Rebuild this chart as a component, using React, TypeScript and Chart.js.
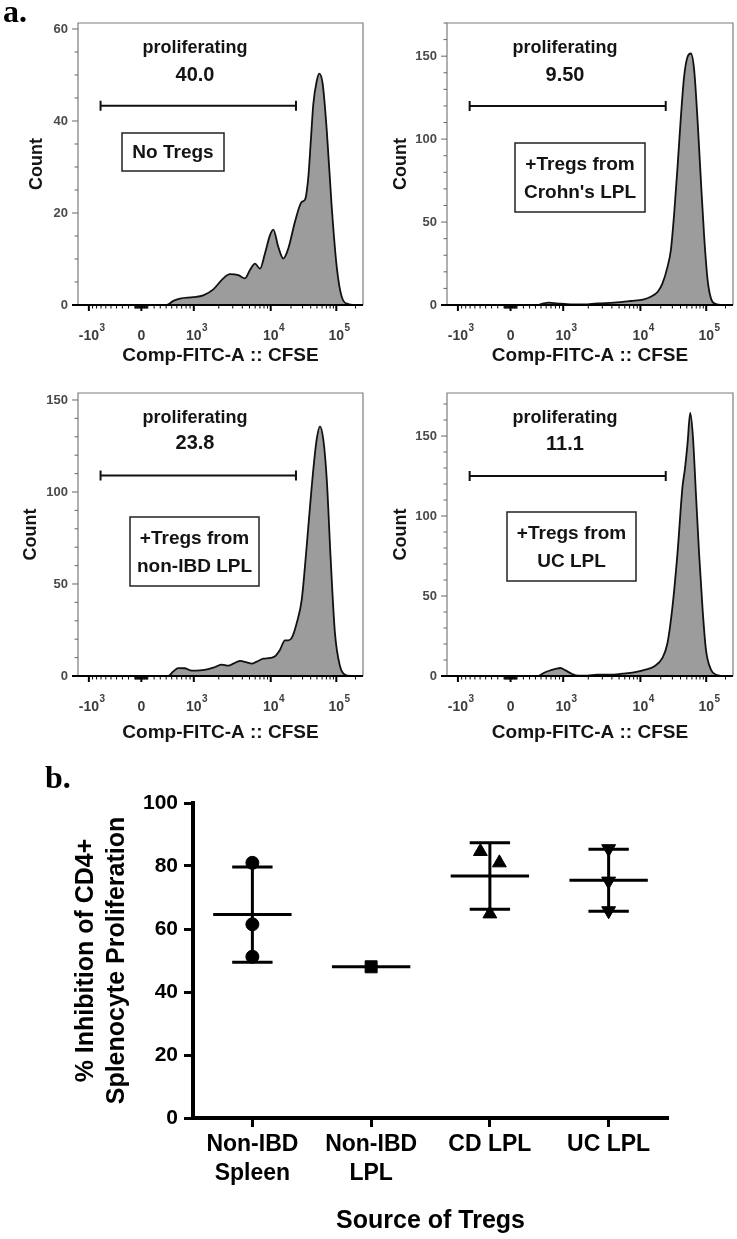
import React, { useEffect, useRef } from 'react';
import { Chart, registerables, LinearScale } from 'chart.js';

Chart.register(...registerables);

const FONT = '"Liberation Sans", Arial, Helvetica, sans-serif';
const SERIF = '"Liberation Serif", "Times New Roman", serif';

// ---------- Panel a: CFSE histograms (Comp-FITC-A value, event count) ----------
const P1_FLUOR = [300, 410, 530, 665, 987, 1300, 1717, 2276, 2760, 3540, 4350, 5080, 5960, 7010, 8250, 9760, 10910, 12930, 15340, 18230, 22990, 29120, 32690, 36760, 40300, 43900, 49600, 54300, 61400, 71000, 84800, 101500, 121500, 154000, 196000];
const P1_COUNT = [0, 0, 0.9, 1.4, 1.7, 2.1, 3.4, 5.8, 6.7, 6.5, 5.8, 7.6, 9.0, 7.9, 11.2, 15.2, 16.4, 12.6, 10.1, 12.3, 18.1, 22.4, 22.9, 27.8, 36.0, 43.7, 48.7, 50.3, 48.0, 37.9, 21.3, 8.3, 1.8, 0.2, 0];

const P2_FLUOR = [300, 428, 550, 650, 840, 1115, 1780, 2580, 4260, 7250, 11250, 14170, 18050, 21240, 25300, 28440, 31960, 35980, 40460, 45380, 51360, 57800, 65000, 73420, 82650, 93000, 105200, 118500, 142000, 181000];
const P2_COUNT = [0, 0, 1, 1.4, 1, 0.5, 0.3, 1, 1.4, 2.4, 3.4, 5, 8, 13, 23, 33, 55, 83, 113, 137.5, 149.6, 151.6, 141.6, 111, 75, 41, 15, 4, 0.6, 0];

const P3_FLUOR = [300, 438, 530, 630, 775, 943, 1188, 1494, 1800, 2175, 2630, 3047, 3725, 4590, 5375, 6300, 7815, 9770, 11560, 13700, 16240, 18230, 20540, 24440, 29140, 34700, 41490, 49400, 55680, 62750, 71000, 81800, 95150, 114300, 137000, 175000];
const P3_COUNT = [0, 0, 2.5, 4.3, 4.2, 2.9, 3.1, 3.8, 4.9, 6.2, 5.6, 6.7, 8.2, 7.4, 6.7, 7.8, 9.4, 9.8, 10.7, 14.3, 19.4, 19.4, 20.7, 28.8, 41.5, 70.5, 103, 128.4, 135.7, 128.4, 106.7, 63, 23.4, 5.3, 0.7, 0];

const P4_FLUOR = [300, 455, 550, 686, 800, 924, 1065, 1281, 1535, 1940, 2580, 3840, 5540, 8080, 11900, 15900, 21240, 25300, 30170, 35980, 42960, 46600, 51360, 56400, 62060, 69100, 77400, 87850, 99000, 118500, 142000, 181000];
const P4_COUNT = [0, 0, 1.9, 3.5, 4.4, 5.0, 3.5, 1.25, 0.2, 0.2, 0.8, 0.8, 1.5, 2.3, 4, 6, 11.3, 20.6, 43.5, 77, 118.5, 129, 145.6, 164.4, 150, 114.4, 76.9, 41.5, 16.5, 4, 0.8, 0];

const PANEL_PCT = ['40.0', '9.50', '23.8', '11.1'];
const PANEL_TAGS = [['No Tregs'], ['+Tregs from', "Crohn's LPL"], ['+Tregs from', 'non-IBD LPL'], ['+Tregs from', 'UC LPL']];
const PANEL_Y_TICKS = [[0, 20, 40, 60], [0, 50, 100, 150], [0, 50, 100, 150], [0, 50, 100, 150]];
const PANEL_Y_MINOR = [5, 10, 10, 10];
const PANEL_Y_MAX = [61.3, 170, 153.8, 176.9];
const GATE_RANGE = [-710, 23800];
const GATE_COUNT = [43.3, 120, 109, 125];
const X_TICK_VALUES = [-1000, 0, 1000, 10000, 100000];
const X_TICK_BASE = ['-10', '0', '10', '10', '10'];
const X_TICK_EXP = ['3', '', '3', '4', '5'];

// ---------- Panel b: % inhibition by Treg source ----------
const B_CATEGORIES: (string | string[])[] = [['Non-IBD', 'Spleen'], ['Non-IBD', 'LPL'], 'CD LPL', 'UC LPL'];
const SPLEEN_INHIB = [81.0, 61.5, 51.2];
const NONIBD_LPL_INHIB = [48.0];
const CD_LPL_INHIB = [84.6, 81.0, 64.8];
const UC_LPL_INHIB = [85.5, 75.2, 65.8];
const B_Y_TICKS = [0, 20, 40, 60, 80, 100];

// ---------- layout (style only) ----------
const PANEL_LAYOUT = [
  { left: 0, top: 0, w: 370, h: 370, pad: { left: 78, top: 23, right: 7, bottom: 65 }, countDx: -41, xTitleDy: 51, textDx: 117, labelDy: 25, pctDy: 52, box: { x: 44, y: 110, w: 102, h: 38 } },
  { left: 370, top: 0, w: 367, h: 370, pad: { left: 77, top: 23, right: 4, bottom: 65 }, countDx: -46, xTitleDy: 51, textDx: 118, labelDy: 25, pctDy: 52, box: { x: 68, y: 120, w: 130, h: 69 } },
  { left: 0, top: 370, w: 370, h: 380, pad: { left: 78, top: 23, right: 7, bottom: 74 }, countDx: -47, xTitleDy: 57, textDx: 117, labelDy: 25, pctDy: 50, box: { x: 52, y: 124, w: 129, h: 69 } },
  { left: 370, top: 370, w: 367, h: 380, pad: { left: 77, top: 23, right: 4, bottom: 74 }, countDx: -46, xTitleDy: 57, textDx: 118, labelDy: 25, pctDy: 51, box: { x: 60, y: 119, w: 129, h: 69 } },
];
const PANEL_FLUOR = [P1_FLUOR, P2_FLUOR, P3_FLUOR, P4_FLUOR];
const PANEL_COUNT = [P1_COUNT, P2_COUNT, P3_COUNT, P4_COUNT];
const MEAN_HALF = 0.33;
const CAP_HALF = 0.17;

// ---------- Logicle (biexponential) transform ----------
function makeLogicle(T: number, W: number, M: number) {
  const w = W / M;
  const b = M * Math.LN10;
  let lo = 1e-8, hi = b;
  for (let i = 0; i < 200; i++) {
    const mid = (lo + hi) / 2;
    const f = 2 * Math.log(mid / b) + w * (b + mid);
    if (f > 0) hi = mid; else lo = mid;
  }
  const d = (lo + hi) / 2;
  const x1 = w, x0 = 2 * w;
  const ca = Math.exp(x0 * (b + d));
  const mfa = Math.exp(b * x1) - ca / Math.exp(d * x1);
  const a = T / ((Math.exp(b) - mfa) - ca / Math.exp(d));
  const c = ca * a, f = -mfa * a;
  const inverse = (s: number) => {
    const neg = s < x1;
    const t = neg ? 2 * x1 - s : s;
    const v = a * Math.exp(b * t) + f - c * Math.exp(-d * t);
    return neg ? -v : v;
  };
  const scale = (v: number) => {
    let l = -1, h = 2;
    for (let i = 0; i < 80; i++) {
      const m = (l + h) / 2;
      if (inverse(m) < v) l = m; else h = m;
    }
    return (l + h) / 2;
  };
  return { scale, inverse };
}
const LOGICLE = makeLogicle(262144, 1.0, 4.5);

class LogicleScale extends (LinearScale as any) {
  static id = 'logicle';
  static defaults = (LinearScale as any).defaults;
  determineDataLimits() {
    (this as any).min = LOGICLE.inverse(0);
    (this as any).max = LOGICLE.inverse(1);
  }
  buildTicks() {
    return X_TICK_VALUES.map((v) => ({ value: v }));
  }
  getPixelForValue(value: number) {
    return (this as any).getPixelForDecimal(LOGICLE.scale(value));
  }
  getValueForPixel(pixel: number) {
    return LOGICLE.inverse((this as any).getDecimalForPixel(pixel));
  }
}
Chart.register(LogicleScale as any);

function minorXTicks(): number[] {
  const out: number[] = [];
  for (let k = 1; k <= 9; k++) out.push(k * 10, -k * 10, k * 100, -k * 100, k * 1000, k * 10000);
  out.push(200000);
  const lo = LOGICLE.inverse(0);
  return out.filter((v) => !X_TICK_VALUES.includes(v) && v >= lo && v <= 262144);
}

function histDecor(idx: number) {
  const L = PANEL_LAYOUT[idx];
  return {
    id: 'histDecor',
    afterDatasetsDraw(chart: any) {
      const { ctx, chartArea: ca } = chart;
      const xs = chart.scales.x;
      const ys = chart.scales.y;
      ctx.save();
      // frame
      ctx.strokeStyle = '#7d7d7d';
      ctx.lineWidth = 1.2;
      ctx.beginPath();
      ctx.moveTo(ca.left, ca.bottom);
      ctx.lineTo(ca.left, ca.top);
      ctx.lineTo(ca.right, ca.top);
      ctx.lineTo(ca.right, ca.bottom);
      ctx.stroke();
      // y ticks
      const yt = PANEL_Y_TICKS[idx];
      ctx.strokeStyle = '#666';
      ctx.lineWidth = 1;
      for (let v = 0; v <= ys.max + 1e-6; v += PANEL_Y_MINOR[idx]) {
        const py = ys.getPixelForValue(v);
        const major = yt.some((t) => Math.abs(t - v) < 1e-6);
        ctx.beginPath();
        ctx.moveTo(ca.left - (major ? 6 : 3.5), py);
        ctx.lineTo(ca.left, py);
        ctx.stroke();
      }
      ctx.fillStyle = '#4a4a4a';
      ctx.font = `bold 13px ${FONT}`;
      ctx.textAlign = 'right';
      ctx.textBaseline = 'middle';
      yt.forEach((t) => ctx.fillText(String(t), ca.left - 10, ys.getPixelForValue(t)));
      // x axis line
      ctx.strokeStyle = '#000';
      ctx.lineWidth = 2;
      ctx.beginPath();
      ctx.moveTo(ca.left - 6, ca.bottom);
      ctx.lineTo(ca.right, ca.bottom);
      ctx.stroke();
      // x minor ticks
      ctx.lineWidth = 1;
      minorXTicks().forEach((v) => {
        const px = xs.getPixelForValue(v);
        ctx.beginPath();
        ctx.moveTo(px, ca.bottom);
        ctx.lineTo(px, ca.bottom + 3.5);
        ctx.stroke();
      });
      ctx.lineWidth = 2;
      X_TICK_VALUES.forEach((v) => {
        const px = xs.getPixelForValue(v);
        ctx.beginPath();
        ctx.moveTo(px, ca.bottom);
        ctx.lineTo(px, ca.bottom + 6);
        ctx.stroke();
      });
      // x tick labels
      ctx.fillStyle = '#3c3c3c';
      X_TICK_VALUES.forEach((v, i) => {
        const px = xs.getPixelForValue(v);
        const ly = ca.bottom + 31;
        ctx.font = `bold 14px ${FONT}`;
        ctx.textAlign = 'center';
        ctx.textBaseline = 'middle';
        ctx.fillText(X_TICK_BASE[i], px, ly);
        if (X_TICK_EXP[i]) {
          const wb = ctx.measureText(X_TICK_BASE[i]).width;
          ctx.font = `bold 10px ${FONT}`;
          ctx.textAlign = 'left';
          ctx.fillText(X_TICK_EXP[i], px + wb / 2 + 0.5, ly - 8);
        }
      });
      // axis titles
      ctx.fillStyle = '#141414';
      ctx.font = `bold 19px ${FONT}`;
      ctx.textAlign = 'center';
      ctx.textBaseline = 'middle';
      ctx.fillText('Comp-FITC-A :: CFSE', (ca.left + ca.right) / 2, ca.bottom + L.xTitleDy);
      ctx.save();
      ctx.translate(ca.left + L.countDx, (ca.top + ca.bottom) / 2);
      ctx.rotate(-Math.PI / 2);
      ctx.font = `bold 18px ${FONT}`;
      ctx.fillText('Count', 0, 0);
      ctx.restore();
      // gate
      const gy = ys.getPixelForValue(GATE_COUNT[idx]);
      const gx0 = xs.getPixelForValue(GATE_RANGE[0]);
      const gx1 = xs.getPixelForValue(GATE_RANGE[1]);
      ctx.strokeStyle = '#111';
      ctx.lineWidth = 2;
      ctx.beginPath();
      ctx.moveTo(gx0, gy);
      ctx.lineTo(gx1, gy);
      ctx.moveTo(gx0, gy - 5);
      ctx.lineTo(gx0, gy + 5);
      ctx.moveTo(gx1, gy - 5);
      ctx.lineTo(gx1, gy + 5);
      ctx.stroke();
      // gate label
      ctx.fillStyle = '#141414';
      ctx.font = `bold 18px ${FONT}`;
      ctx.fillText('proliferating', ca.left + L.textDx, ca.top + L.labelDy);
      ctx.font = `bold 20px ${FONT}`;
      ctx.fillText(PANEL_PCT[idx], ca.left + L.textDx, ca.top + L.pctDy);
      // box
      const bx = ca.left + L.box.x, by = ca.top + L.box.y;
      ctx.fillStyle = '#fff';
      ctx.fillRect(bx, by, L.box.w, L.box.h);
      ctx.strokeStyle = '#222';
      ctx.lineWidth = 1.5;
      ctx.strokeRect(bx, by, L.box.w, L.box.h);
      ctx.fillStyle = '#141414';
      ctx.font = `bold 19px ${FONT}`;
      const lines = PANEL_TAGS[idx];
      const lh = 28;
      const cy = by + L.box.h / 2;
      lines.forEach((t, k) => {
        ctx.fillText(t, bx + L.box.w / 2, cy + (k - (lines.length - 1) / 2) * lh + 1);
      });
      if (idx === 0) {
        ctx.fillStyle = '#000';
        ctx.font = `bold 32px ${SERIF}`;
        ctx.textAlign = 'left';
        ctx.textBaseline = 'alphabetic';
        ctx.fillText('a.', 3, 22);
      }
      ctx.restore();
    },
  };
}

function HistPanel({ idx }: { idx: number }) {
  const ref = useRef<HTMLCanvasElement>(null);
  const L = PANEL_LAYOUT[idx];
  useEffect(() => {
    const fluor = PANEL_FLUOR[idx];
    const count = PANEL_COUNT[idx];
    const chart = new Chart(ref.current as HTMLCanvasElement, {
      type: 'line',
      data: {
        datasets: [
          {
            data: fluor.map((f, i) => ({ x: f, y: count[i] })),
            borderColor: '#111',
            borderWidth: 1.8,
            backgroundColor: '#9c9c9c',
            fill: 'origin',
            cubicInterpolationMode: 'monotone',
            pointRadius: 0,
          } as any,
        ],
      },
      options: {
        animation: false,
        responsive: false,
        devicePixelRatio: 1,
        events: [],
        layout: { padding: L.pad },
        plugins: { legend: { display: false }, tooltip: { enabled: false } },
        scales: {
          x: { type: 'logicle' as any, display: false },
          y: { type: 'linear', display: false, min: 0, max: PANEL_Y_MAX[idx], bounds: 'data' } as any,
        },
      } as any,
      plugins: [histDecor(idx)],
    });
    return () => chart.destroy();
  }, [idx]);
  return (
    <canvas
      ref={ref}
      width={L.w}
      height={L.h}
      style={{ position: 'absolute', left: L.left, top: L.top, width: L.w, height: L.h }}
    />
  );
}

function jitter(vals: number[], thr: number, step: number) {
  const order = vals.map((v, i) => ({ v, i })).sort((a, b) => b.v - a.v);
  const off = new Array(vals.length).fill(0);
  let k = 0;
  while (k < order.length) {
    let j = k;
    while (j + 1 < order.length && order[j].v - order[j + 1].v < thr) j++;
    const n = j - k + 1;
    for (let m = 0; m < n; m++) off[order[k + m].i] = (m - (n - 1) / 2) * step;
    k = j + 1;
  }
  return off;
}
const mean = (a: number[]) => a.reduce((s, v) => s + v, 0) / a.length;
const stdev = (a: number[]) => {
  const m = mean(a);
  return Math.sqrt(a.reduce((s, v) => s + (v - m) * (v - m), 0) / (a.length - 1));
};

function InhibitionChart() {
  const ref = useRef<HTMLCanvasElement>(null);
  useEffect(() => {
    const groups = [SPLEEN_INHIB, NONIBD_LPL_INHIB, CD_LPL_INHIB, UC_LPL_INHIB];
    const marks = [
      { style: 'circle', r: 6.5, rot: 0 },
      { style: 'rect', r: 8.5, rot: 0 },
      { style: 'triangle', r: 8, rot: 0 },
      { style: 'triangle', r: 8, rot: 180 },
    ];
    const pointSets = groups.map((vals, g) => {
      const off = jitter(vals, 5, 0.16);
      return {
        type: 'line',
        showLine: false,
        data: vals.map((v, k) => ({ x: g + off[k], y: v })),
        pointStyle: marks[g].style,
        pointRadius: marks[g].r,
        pointRotation: marks[g].rot,
        pointBackgroundColor: '#000',
        pointBorderColor: '#000',
        pointBorderWidth: 1,
      };
    });
    const meanData: any[] = [];
    const errData: any[] = [];
    groups.forEach((vals, g) => {
      const m = mean(vals);
      meanData.push({ x: g - MEAN_HALF, y: m }, { x: g + MEAN_HALF, y: m }, { x: g + MEAN_HALF, y: null });
      if (vals.length > 1) {
        const sd = stdev(vals);
        errData.push(
          { x: g, y: m - sd }, { x: g, y: m + sd }, { x: g, y: null },
          { x: g - CAP_HALF, y: m + sd }, { x: g + CAP_HALF, y: m + sd }, { x: g + CAP_HALF, y: null },
          { x: g - CAP_HALF, y: m - sd }, { x: g + CAP_HALF, y: m - sd }, { x: g + CAP_HALF, y: null },
        );
      }
    });
    const lineStyle = { type: 'line', borderColor: '#000', borderWidth: 3, pointRadius: 0, spanGaps: false, tension: 0, fill: false };
    const bLabel = {
      id: 'bLabel',
      afterDraw(chart: any) {
        const ctx = chart.ctx;
        ctx.save();
        ctx.fillStyle = '#000';
        ctx.font = `bold 32px ${SERIF}`;
        ctx.textAlign = 'left';
        ctx.textBaseline = 'alphabetic';
        ctx.fillText('b.', 45, 38);
        ctx.restore();
      },
    };
    const chart = new Chart(ref.current as HTMLCanvasElement, {
      type: 'line',
      data: {
        datasets: [
          ...pointSets,
          { ...lineStyle, data: meanData },
          { ...lineStyle, data: errData },
        ] as any,
      },
      options: {
        animation: false,
        responsive: false,
        devicePixelRatio: 1,
        events: [],
        layout: { padding: { left: 0, top: 53, right: 69, bottom: 0 } },
        plugins: { legend: { display: false }, tooltip: { enabled: false } },
        scales: {
          x: {
            type: 'linear',
            min: -0.5,
            max: 3.5,
            bounds: 'data',
            afterBuildTicks: (s: any) => {
              s.ticks = B_CATEGORIES.map((_, i) => ({ value: i }));
            },
            afterFit: (s: any) => {
              s.height = 121;
            },
            ticks: {
              callback: (v: any) => B_CATEGORIES[v],
              font: { family: FONT, size: 23, weight: 'bold', lineHeight: '29px' },
              color: '#000',
              padding: 3,
              maxRotation: 0,
              minRotation: 0,
              autoSkip: false,
            },
            grid: { display: true, drawOnChartArea: false, drawTicks: true, tickLength: 9, tickWidth: 3, tickColor: '#000', color: '#000' },
            border: { display: true, color: '#000', width: 4 },
            title: {
              display: true,
              text: 'Source of Tregs',
              color: '#000',
              font: { family: FONT, size: 25, weight: 'bold', lineHeight: '30px' },
              padding: { top: 0, bottom: 3 },
            },
          },
          y: {
            type: 'linear',
            min: 0,
            max: 100,
            bounds: 'data',
            afterBuildTicks: (s: any) => {
              s.ticks = B_Y_TICKS.map((v) => ({ value: v }));
            },
            afterFit: (s: any) => {
              s.width = 193;
            },
            ticks: {
              font: { family: FONT, size: 21, weight: 'bold' },
              color: '#000',
              padding: 6,
            },
            grid: { display: true, drawOnChartArea: false, drawTicks: true, tickLength: 9, tickWidth: 3, tickColor: '#000', color: '#000' },
            border: { display: true, color: '#000', width: 4 },
            title: {
              display: true,
              text: ['% Inhibition of CD4+', 'Splenocyte Proliferation'],
              color: '#000',
              font: { family: FONT, size: 25, weight: 'bold', lineHeight: '31px' },
              padding: { top: 70.5, bottom: 0 },
            },
          },
        },
      } as any,
      plugins: [bLabel],
    });
    return () => chart.destroy();
  }, []);
  return (
    <canvas
      ref={ref}
      width={737}
      height={489}
      style={{ position: 'absolute', left: 0, top: 750, width: 737, height: 489 }}
    />
  );
}

export default function App() {
  return (
    <div style={{ position: 'absolute', left: 0, top: 0, width: 737, height: 1239, background: '#fff', overflow: 'hidden' }}>
      <HistPanel idx={0} />
      <HistPanel idx={1} />
      <HistPanel idx={2} />
      <HistPanel idx={3} />
      <InhibitionChart />
    </div>
  );
}
